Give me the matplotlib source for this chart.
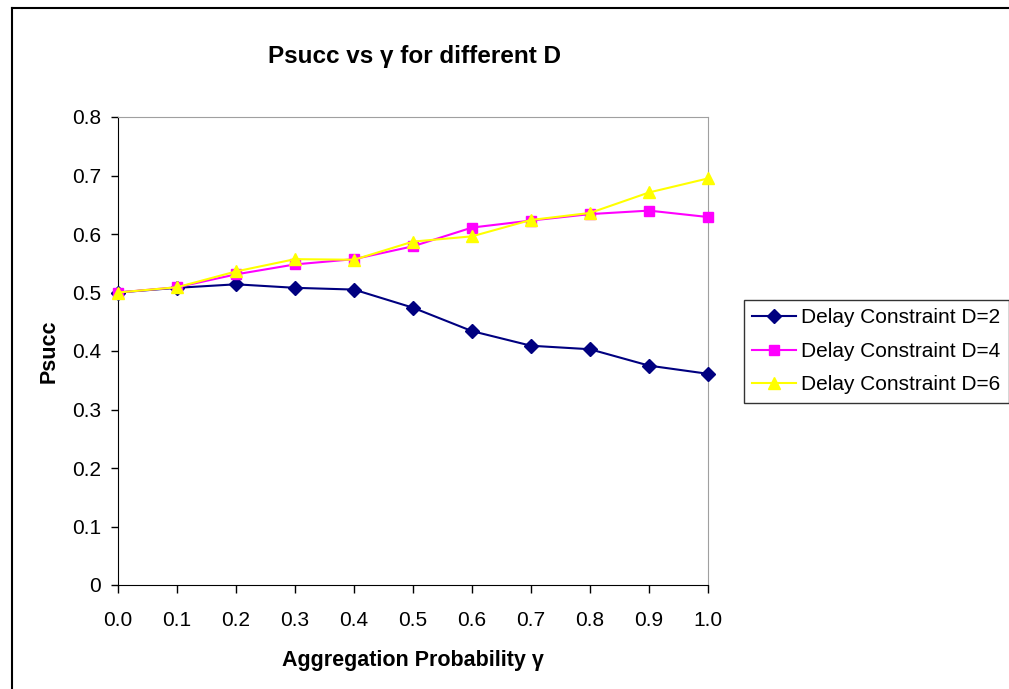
import matplotlib
matplotlib.use("Agg")
from matplotlib import pyplot as plt
from matplotlib.lines import Line2D

plt.rcParams["font.family"] = ["Liberation Sans", "DejaVu Sans"]

gamma = [0.0, 0.1, 0.2, 0.3, 0.4, 0.5, 0.6, 0.7, 0.8, 0.9, 1.0]
psucc_d2 = [0.500, 0.508, 0.514, 0.508, 0.505, 0.474, 0.434, 0.409, 0.403, 0.375, 0.361]
psucc_d4 = [0.500, 0.509, 0.531, 0.548, 0.557, 0.579, 0.611, 0.623, 0.634, 0.640, 0.629]
psucc_d6 = [0.500, 0.509, 0.536, 0.557, 0.556, 0.587, 0.596, 0.624, 0.636, 0.671, 0.695]
labels = ["Delay Constraint D=2", "Delay Constraint D=4", "Delay Constraint D=6"]

fig = plt.figure(figsize=(10.09, 6.89), dpi=100)
ax = fig.add_axes([118 / 1009, 1 - 585 / 689, 590 / 1009, 468 / 689])

ax.plot(gamma, psucc_d2, color="#000080", marker="D", markersize=7, lw=1.5, label=labels[0], clip_on=False, zorder=3)
ax.plot(gamma, psucc_d4, color="#ff00ff", marker="s", markersize=7, lw=1.5, label=labels[1], clip_on=False, zorder=3)
ax.plot(gamma, psucc_d6, color="#ffff00", marker="^", markersize=9, lw=1.5, label=labels[2], clip_on=False, zorder=3)

ax.set_xlim(0, 1)
ax.set_ylim(0, 0.8)
ax.set_xticks(gamma)
ax.set_xticklabels([f"{g:.1f}" for g in gamma])
ax.set_yticks([0, 0.1, 0.2, 0.3, 0.4, 0.5, 0.6, 0.7, 0.8])
ax.set_yticklabels(["0", "0.1", "0.2", "0.3", "0.4", "0.5", "0.6", "0.7", "0.8"])
ax.tick_params(axis="both", labelsize=15, direction="out", width=1, color="black")
ax.tick_params(axis="x", length=6, pad=13)
ax.tick_params(axis="y", length=5, pad=7)
for s in ["top", "right"]:
    ax.spines[s].set_color("#a0a0a0")
ax.spines["left"].set_color("black")
ax.spines["bottom"].set_color("black")

ax.set_xlabel("Aggregation Probability γ", fontsize=15.5, fontweight="bold", labelpad=14)
ax.set_ylabel("Psucc", fontsize=15.5, fontweight="bold", labelpad=9)
fig.text(415 / 1009, 1 - 56 / 689, "Psucc vs γ for different D", ha="center", va="center",
         fontsize=17.5, fontweight="bold")

leg = fig.legend(loc="upper left", bbox_to_anchor=(744 / 1009, 1 - 300 / 689), fontsize=15,
                 frameon=True, fancybox=False, edgecolor="black", borderpad=0.4, borderaxespad=0,
                 handlelength=2.1, labelspacing=0.7, handletextpad=0.25)
leg.get_frame().set_linewidth(1)

# chart area border (cut off at right and bottom)
fig.add_artist(Line2D([12 / 1009, 12 / 1009], [0, 1 - 8 / 689], transform=fig.transFigure, color="black", lw=1.5))
fig.add_artist(Line2D([12 / 1009, 1], [1 - 8 / 689, 1 - 8 / 689], transform=fig.transFigure, color="black", lw=1.5))

fig.savefig("out.png", dpi=100)
